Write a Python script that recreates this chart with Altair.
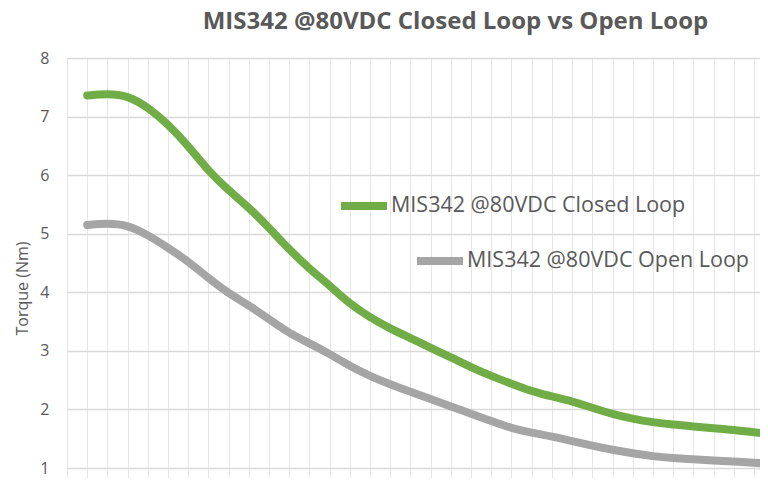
import altair as alt
import pandas as pd

# speed steps (one per vertical gridline)
steps = list(range(1, 36))
closed_loop = [7.36, 7.39, 7.36, 7.16, 6.87, 6.50, 6.07, 5.74, 5.45, 5.10,
               4.73, 4.40, 4.12, 3.80, 3.57, 3.38, 3.22, 3.05, 2.89, 2.72,
               2.57, 2.44, 2.31, 2.22, 2.14, 2.03, 1.92, 1.84, 1.78, 1.74,
               1.71, 1.68, 1.65, 1.61, 1.57]
open_loop = [5.15, 5.18, 5.15, 4.98, 4.76, 4.53, 4.24, 3.98, 3.78, 3.54,
             3.30, 3.13, 2.95, 2.74, 2.57, 2.43, 2.30, 2.18, 2.05, 1.93,
             1.80, 1.68, 1.60, 1.54, 1.46, 1.38, 1.31, 1.25, 1.20, 1.17,
             1.15, 1.13, 1.11, 1.09, 1.07]
closed_name = "MIS342 @80VDC Closed Loop"
open_name = "MIS342 @80VDC Open Loop"
y_ticks = [1, 2, 3, 4, 5, 6, 7, 8]
x_grid = list(range(0, 36))

df_closed = pd.DataFrame({"step": steps, "torque": closed_loop, "series": closed_name})
df_open = pd.DataFrame({"step": steps, "torque": open_loop, "series": open_name})

FONT = "Open Sans"
GRAY_TXT = "#595959"

x_enc = alt.X("step:Q",
              scale=alt.Scale(domain=[0, 34.3], nice=False, zero=False),
              axis=alt.Axis(values=x_grid, labels=False, ticks=False, domain=False,
                            title=None, grid=True, gridColor="#E6E6E6", gridWidth=1))
y_enc = alt.Y("torque:Q",
              scale=alt.Scale(domain=[0.83, 8], nice=False, zero=False),
              axis=alt.Axis(values=y_ticks, ticks=False, domain=False,
                            title="Torque (Nm)", titleFont=FONT, titleFontSize=16,
                            titleFontWeight="normal", titleColor=GRAY_TXT,
                            titleX=-45, titleY=230, titleAlign="center",
                            titleBaseline="middle", titleAngle=270,
                            labelFont=FONT, labelFontSize=16, labelColor=GRAY_TXT,
                            labelPadding=18, grid=True, gridColor="#D9D9D9", gridWidth=1.5))

def legend(x, y):
    return alt.Legend(orient="none", legendX=x, legendY=y, title=None,
                      symbolType="stroke", symbolSize=2116, symbolStrokeWidth=8,
                      labelFont=FONT, labelFontSize=21.5, labelColor=GRAY_TXT,
                      labelOffset=0, labelLimit=400, padding=0, offset=0)

closed_line = alt.Chart(df_closed).mark_line(
    strokeWidth=8, strokeCap="round", interpolate="basis", clip=True
).encode(
    x=x_enc, y=y_enc,
    color=alt.Color("series:N", scale=alt.Scale(domain=[closed_name], range=["#70AD47"]),
                    legend=legend(270, 121)),
)

open_line = alt.Chart(df_open).mark_line(
    strokeWidth=8, strokeCap="round", interpolate="basis", clip=True
).encode(
    x=x_enc, y=y_enc,
    stroke=alt.Stroke("series:N", scale=alt.Scale(domain=[open_name], range=["#A5A5A5"]),
                      legend=legend(346, 176)),
)

chart = alt.layer(open_line, closed_line).properties(
    width=693, height=420,
    autosize=alt.AutoSizeParams(type="none"),
    padding={"left": 59, "top": 50, "right": 0, "bottom": 0},
    title=alt.TitleParams("MIS342 @80VDC Closed Loop vs Open Loop", font=FONT,
                          fontSize=24, fontWeight="bold", color=GRAY_TXT,
                          anchor="middle", frame="group", dx=42, offset=16),
).configure_view(stroke=None).resolve_scale(color="independent")

chart.save("out.html", embed_options={"renderer": "svg", "actions": False})
